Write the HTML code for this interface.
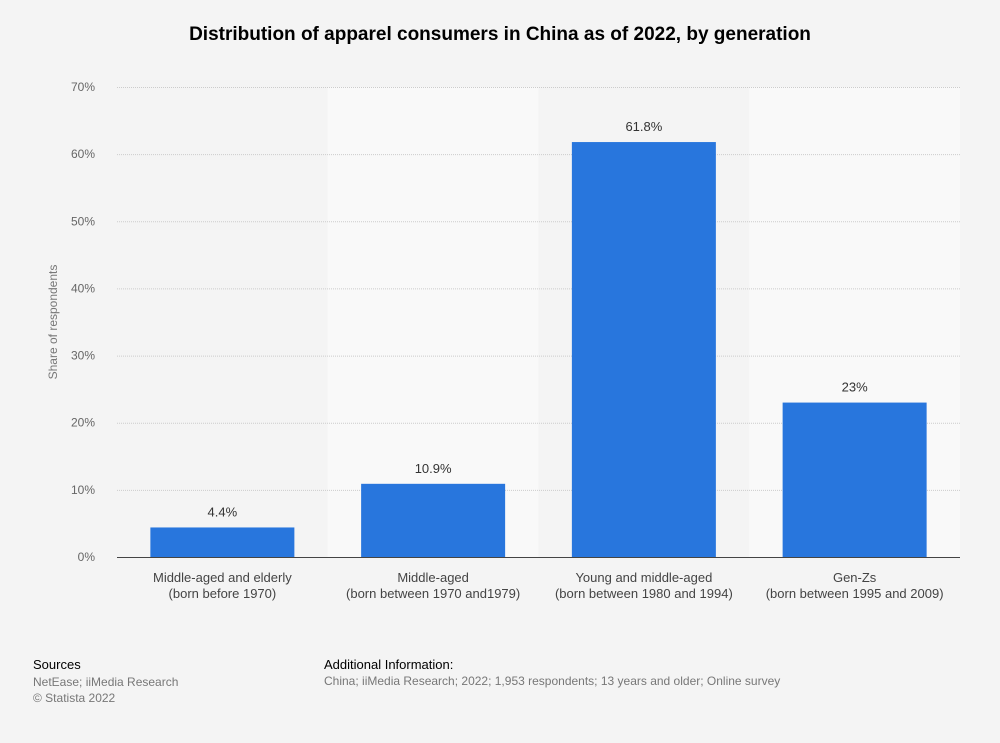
<!DOCTYPE html>
<html><head><meta charset="utf-8"><style>
body{margin:0;background:#f4f4f4;font-family:"Liberation Sans",sans-serif;}
#wrap{position:relative;width:1000px;height:743px;}
.t{position:absolute;white-space:nowrap;}
</style></head><body>
<div id="wrap">
<div class="t" style="left:0;width:1000px;text-align:center;top:24px;font-size:19px;font-weight:bold;color:#000">Distribution of apparel consumers in China as of 2022, by generation</div>
<svg id="c" width="1000" height="743" style="position:absolute;left:0;top:0"></svg>
<div class="t" style="left:33px;top:657px;font-size:13px;color:#000">Sources</div>
<div class="t" style="left:33px;top:674px;font-size:12px;color:#777;line-height:16px">NetEase; iiMedia Research<br>© Statista 2022</div>
<div class="t" style="left:324px;top:657px;font-size:13px;color:#000">Additional Information:</div>
<div class="t" style="left:324px;top:674px;font-size:12px;color:#777">China; iiMedia Research; 2022; 1,953 respondents; 13 years and older; Online survey</div>
</div>
<script>
const categories=[["Middle-aged and elderly","(born before 1970)"],["Middle-aged","(born between 1970 and1979)"],["Young and middle-aged","(born between 1980 and 1994)"],["Gen-Zs","(born between 1995 and 2009)"]];
const values=[4.4,10.9,61.8,23];
const labels=["4.4%","10.9%","61.8%","23%"];
const ticks=[0,10,20,30,40,50,60,70];
const NS="http://www.w3.org/2000/svg";
const svg=document.getElementById('c');
const x0=117,x1=960,y0=557,yTop=87,ymax=70;
const bw=(x1-x0)/categories.length;
const y=v=>y0-(v/ymax)*(y0-yTop);
function mk(t,a){const e=document.createElementNS(NS,t);for(const k in a)e.setAttribute(k,a[k]);svg.appendChild(e);return e;}
categories.forEach((c,i)=>{if(i%2==1){const r=mk('rect',{x:x0+i*bw,y:yTop,width:bw,height:y0-yTop,fill:i==2?'#f0f0f0':'#f9f9f9'});

}});
ticks.forEach(v=>{const l=mk('line',{x1:x0,x2:x1,y1:y(v)+0.5,y2:y(v)+0.5,stroke:v==0?'#444':'#ccc','stroke-dasharray':v==0?'':'1,1'});


const t=mk('text',{x:95,y:y(v)+4,'text-anchor':'end','font-size':12,fill:'#666'});t.textContent=v+'%';

});
values.forEach((v,i)=>{const cx=x0+bw*(i+0.5);
const r=mk('rect',{x:cx-72,y:y(v),width:144,height:y0-y(v),fill:'#2876dd'});


const t=mk('text',{x:cx,y:y(v)-11,'text-anchor':'middle','font-size':13,fill:'#333'});t.textContent=labels[i];


categories[i].forEach((s,j)=>{const tt=mk('text',{x:cx,y:582+j*16,'text-anchor':'middle','font-size':13,fill:'#444'});tt.textContent=s;

});});
const yt=mk('text',{x:0,y:0,transform:'translate(57,322) rotate(-90)','text-anchor':'middle','font-size':12,fill:'#777'});yt.textContent='Share of respondents';


</script>
</body></html>
